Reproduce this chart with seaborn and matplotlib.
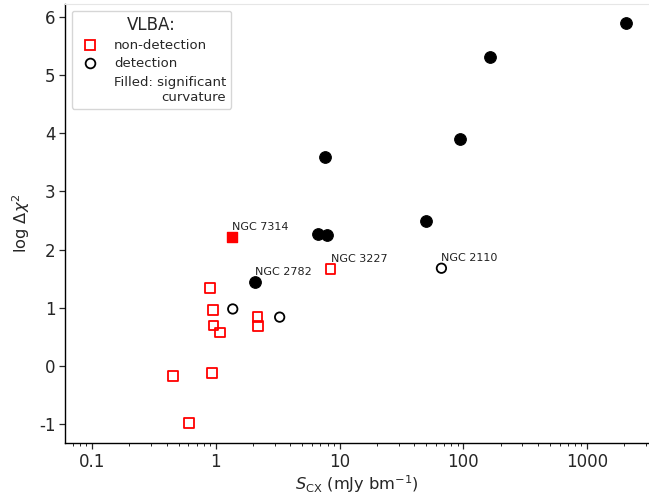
import numpy as np
import pandas as pd
import matplotlib
matplotlib.use("Agg")
import matplotlib.pyplot as plt
import seaborn as sns
from matplotlib.lines import Line2D
from matplotlib.ticker import FuncFormatter, FixedLocator, LogLocator

# ---- data ----
# VLBA non-detections (open red squares)
nondet_x = [0.45, 0.605, 0.93, 0.895, 0.95, 0.96, 1.08, 2.18, 2.2, 8.45]
nondet_y = [-0.17, -0.98, -0.12, 1.34, 0.96, 0.70, 0.58, 0.84, 0.69, 1.67]
# VLBA non-detection with significant curvature (filled red square)
nondet_curv_x = [1.35]
nondet_curv_y = [2.22]
# VLBA detections (open black circles)
det_x = [1.37, 3.28, 66.5]
det_y = [0.98, 0.84, 1.68]
# VLBA detections with significant curvature (filled black circles)
det_curv_x = [2.07, 7.57, 6.65, 7.85, 50.0, 94.6, 165.0, 2065.0]
det_curv_y = [1.44, 3.59, 2.27, 2.25, 2.49, 3.90, 5.31, 5.89]

# labelled sources
label_names = ["NGC 7314", "NGC 2782", "NGC 3227", "NGC 2110"]
label_x = [1.35, 2.07, 8.45, 66.5]
label_y = [2.22, 1.44, 1.67, 1.68]

x_ticks = [0.1, 1, 10, 100, 1000]
y_ticks = [-1, 0, 1, 2, 3, 4, 5, 6]

# ---- plot ----
sns.set_style("ticks")
plt.rcParams["font.family"] = ["DejaVu Sans"]
plt.rcParams["axes.unicode_minus"] = False

fig = plt.figure(figsize=(6.49, 4.98), dpi=100)
ax = fig.add_axes([0.1002, 0.1104, 0.8998, 0.8816])

df_nd = pd.DataFrame({"x": nondet_x, "y": nondet_y})
df_ndc = pd.DataFrame({"x": nondet_curv_x, "y": nondet_curv_y})
df_d = pd.DataFrame({"x": det_x, "y": det_y})
df_dc = pd.DataFrame({"x": det_curv_x, "y": det_curv_y})

sns.scatterplot(data=df_nd, x="x", y="y", ax=ax, marker="s", s=46,
                facecolor="none", edgecolor="red", linewidth=1.3, zorder=3)
sns.scatterplot(data=df_ndc, x="x", y="y", ax=ax, marker="s", s=60,
                color="red", edgecolor="red", linewidth=1.0, zorder=3)
sns.scatterplot(data=df_d, x="x", y="y", ax=ax, marker="o", s=46,
                facecolor="none", edgecolor="black", linewidth=1.3, zorder=3)
sns.scatterplot(data=df_dc, x="x", y="y", ax=ax, marker="o", s=70,
                color="black", edgecolor="black", linewidth=0.8, zorder=3)

for name, lx, ly in zip(label_names, label_x, label_y):
    ax.annotate(name, (lx, ly), xytext=(0, 3.5), textcoords="offset points",
                ha="left", va="bottom", fontsize=8, color="#222222")

ax.set_xscale("log")
ax.set_xlim(0.0605, 3162)
ax.set_ylim(-1.323, 6.22)
ax.xaxis.set_major_locator(FixedLocator(x_ticks))
ax.xaxis.set_major_formatter(FuncFormatter(lambda v, p: f"{v:g}"))
ax.xaxis.set_minor_locator(LogLocator(base=10, subs=np.arange(2, 10)))
ax.set_yticks(y_ticks)
ax.set_yticklabels([str(t) for t in y_ticks])
ax.tick_params(axis="both", which="major", labelsize=12, length=4.5, width=0.9,
               direction="out", pad=2.5)
ax.tick_params(axis="x", which="minor", length=2.5, width=0.7)

ax.set_xlabel(r"$S_{\rm CX}$ (mJy bm$^{-1}$)", fontsize=11.7, labelpad=2)
ax.set_ylabel(r"log $\Delta\chi^2$", fontsize=11.7, labelpad=5)

ax.spines["right"].set_visible(False)
ax.spines["top"].set_color("#e6e6e6")
ax.spines["top"].set_linewidth(0.8)
for s in ["left", "bottom"]:
    ax.spines[s].set_color("black")
    ax.spines[s].set_linewidth(1.0)

handles = [
    Line2D([], [], marker="s", linestyle="none", markerfacecolor="none",
           markeredgecolor="red", markersize=7, markeredgewidth=1.3),
    Line2D([], [], marker="o", linestyle="none", markerfacecolor="none",
           markeredgecolor="black", markersize=7, markeredgewidth=1.3),
    Line2D([], [], linestyle="none"),
]
labels = ["non-detection", "detection", "Filled: significant\ncurvature"]
leg = ax.legend(handles, labels, title="VLBA:", loc="upper left",
                fontsize=9.5, title_fontsize=12, frameon=True,
                borderaxespad=0.5, handletextpad=0.8, labelspacing=0.4)
leg.get_texts()[2].set_multialignment("right")
leg.get_frame().set_edgecolor("#cccccc")

fig.savefig("out.png", dpi=100)
